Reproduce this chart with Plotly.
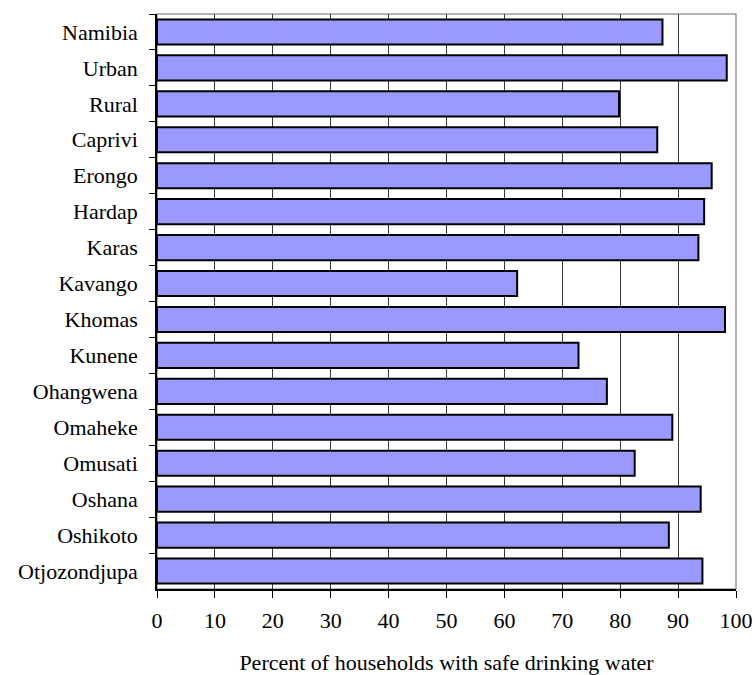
import plotly.graph_objects as go

regions = ["Namibia", "Urban", "Rural", "Caprivi", "Erongo", "Hardap", "Karas",
           "Kavango", "Khomas", "Kunene", "Ohangwena", "Omaheke", "Omusati",
           "Oshana", "Oshikoto", "Otjozondjupa"]
safe_water_pct = [87.3, 98.4, 79.8, 86.4, 95.8, 94.5, 93.5,
                  62.2, 98.1, 72.8, 77.7, 89.0, 82.5,
                  93.9, 88.4, 94.2]
x_ticks = list(range(0, 101, 10))
x_title = "Percent of households with safe drinking water"

FONT = "Liberation Serif"

fig = go.Figure(
    go.Bar(
        x=safe_water_pct,
        y=regions,
        orientation="h",
        marker=dict(color="#9999FF", line=dict(color="black", width=2)),
        hoverinfo="x+y",
    )
)

fig.update_layout(
    width=755,
    height=675,
    margin=dict(l=157, r=19, t=14, b=86, autoexpand=False),
    paper_bgcolor="white",
    plot_bgcolor="white",
    bargap=0.3,
    showlegend=False,
    font=dict(family=FONT, size=22, color="black"),
    shapes=[
        dict(type="rect", xref="paper", yref="paper", x0=0, x1=1, y0=0, y1=1,
             line=dict(color="#9a9a9a", width=1.5), layer="below"),
    ],
)

fig.update_xaxes(
    range=[0, 100],
    tickvals=x_ticks,
    ticktext=[str(v) for v in x_ticks],
    showgrid=True,
    gridcolor="#3a3a3a",
    gridwidth=1,
    zeroline=False,
    showline=True,
    linecolor="black",
    linewidth=1.5,
    ticks="outside",
    ticklen=7,
    tickcolor="black",
    automargin=False,
    ticklabelstandoff=4,
    tickfont=dict(family=FONT, size=22),
    title=dict(text=x_title, font=dict(family=FONT, size=22), standoff=27),
)

fig.update_yaxes(
    categoryorder="array",
    categoryarray=regions,
    autorange="reversed",
    showgrid=False,
    zeroline=False,
    showline=True,
    linecolor="black",
    linewidth=1.5,
    ticks="outside",
    tickson="boundaries",
    ticklen=6,
    tickcolor="black",
    automargin=False,
    ticklabelstandoff=13,
    tickfont=dict(family=FONT, size=22),
)

fig.write_html("out.html")
